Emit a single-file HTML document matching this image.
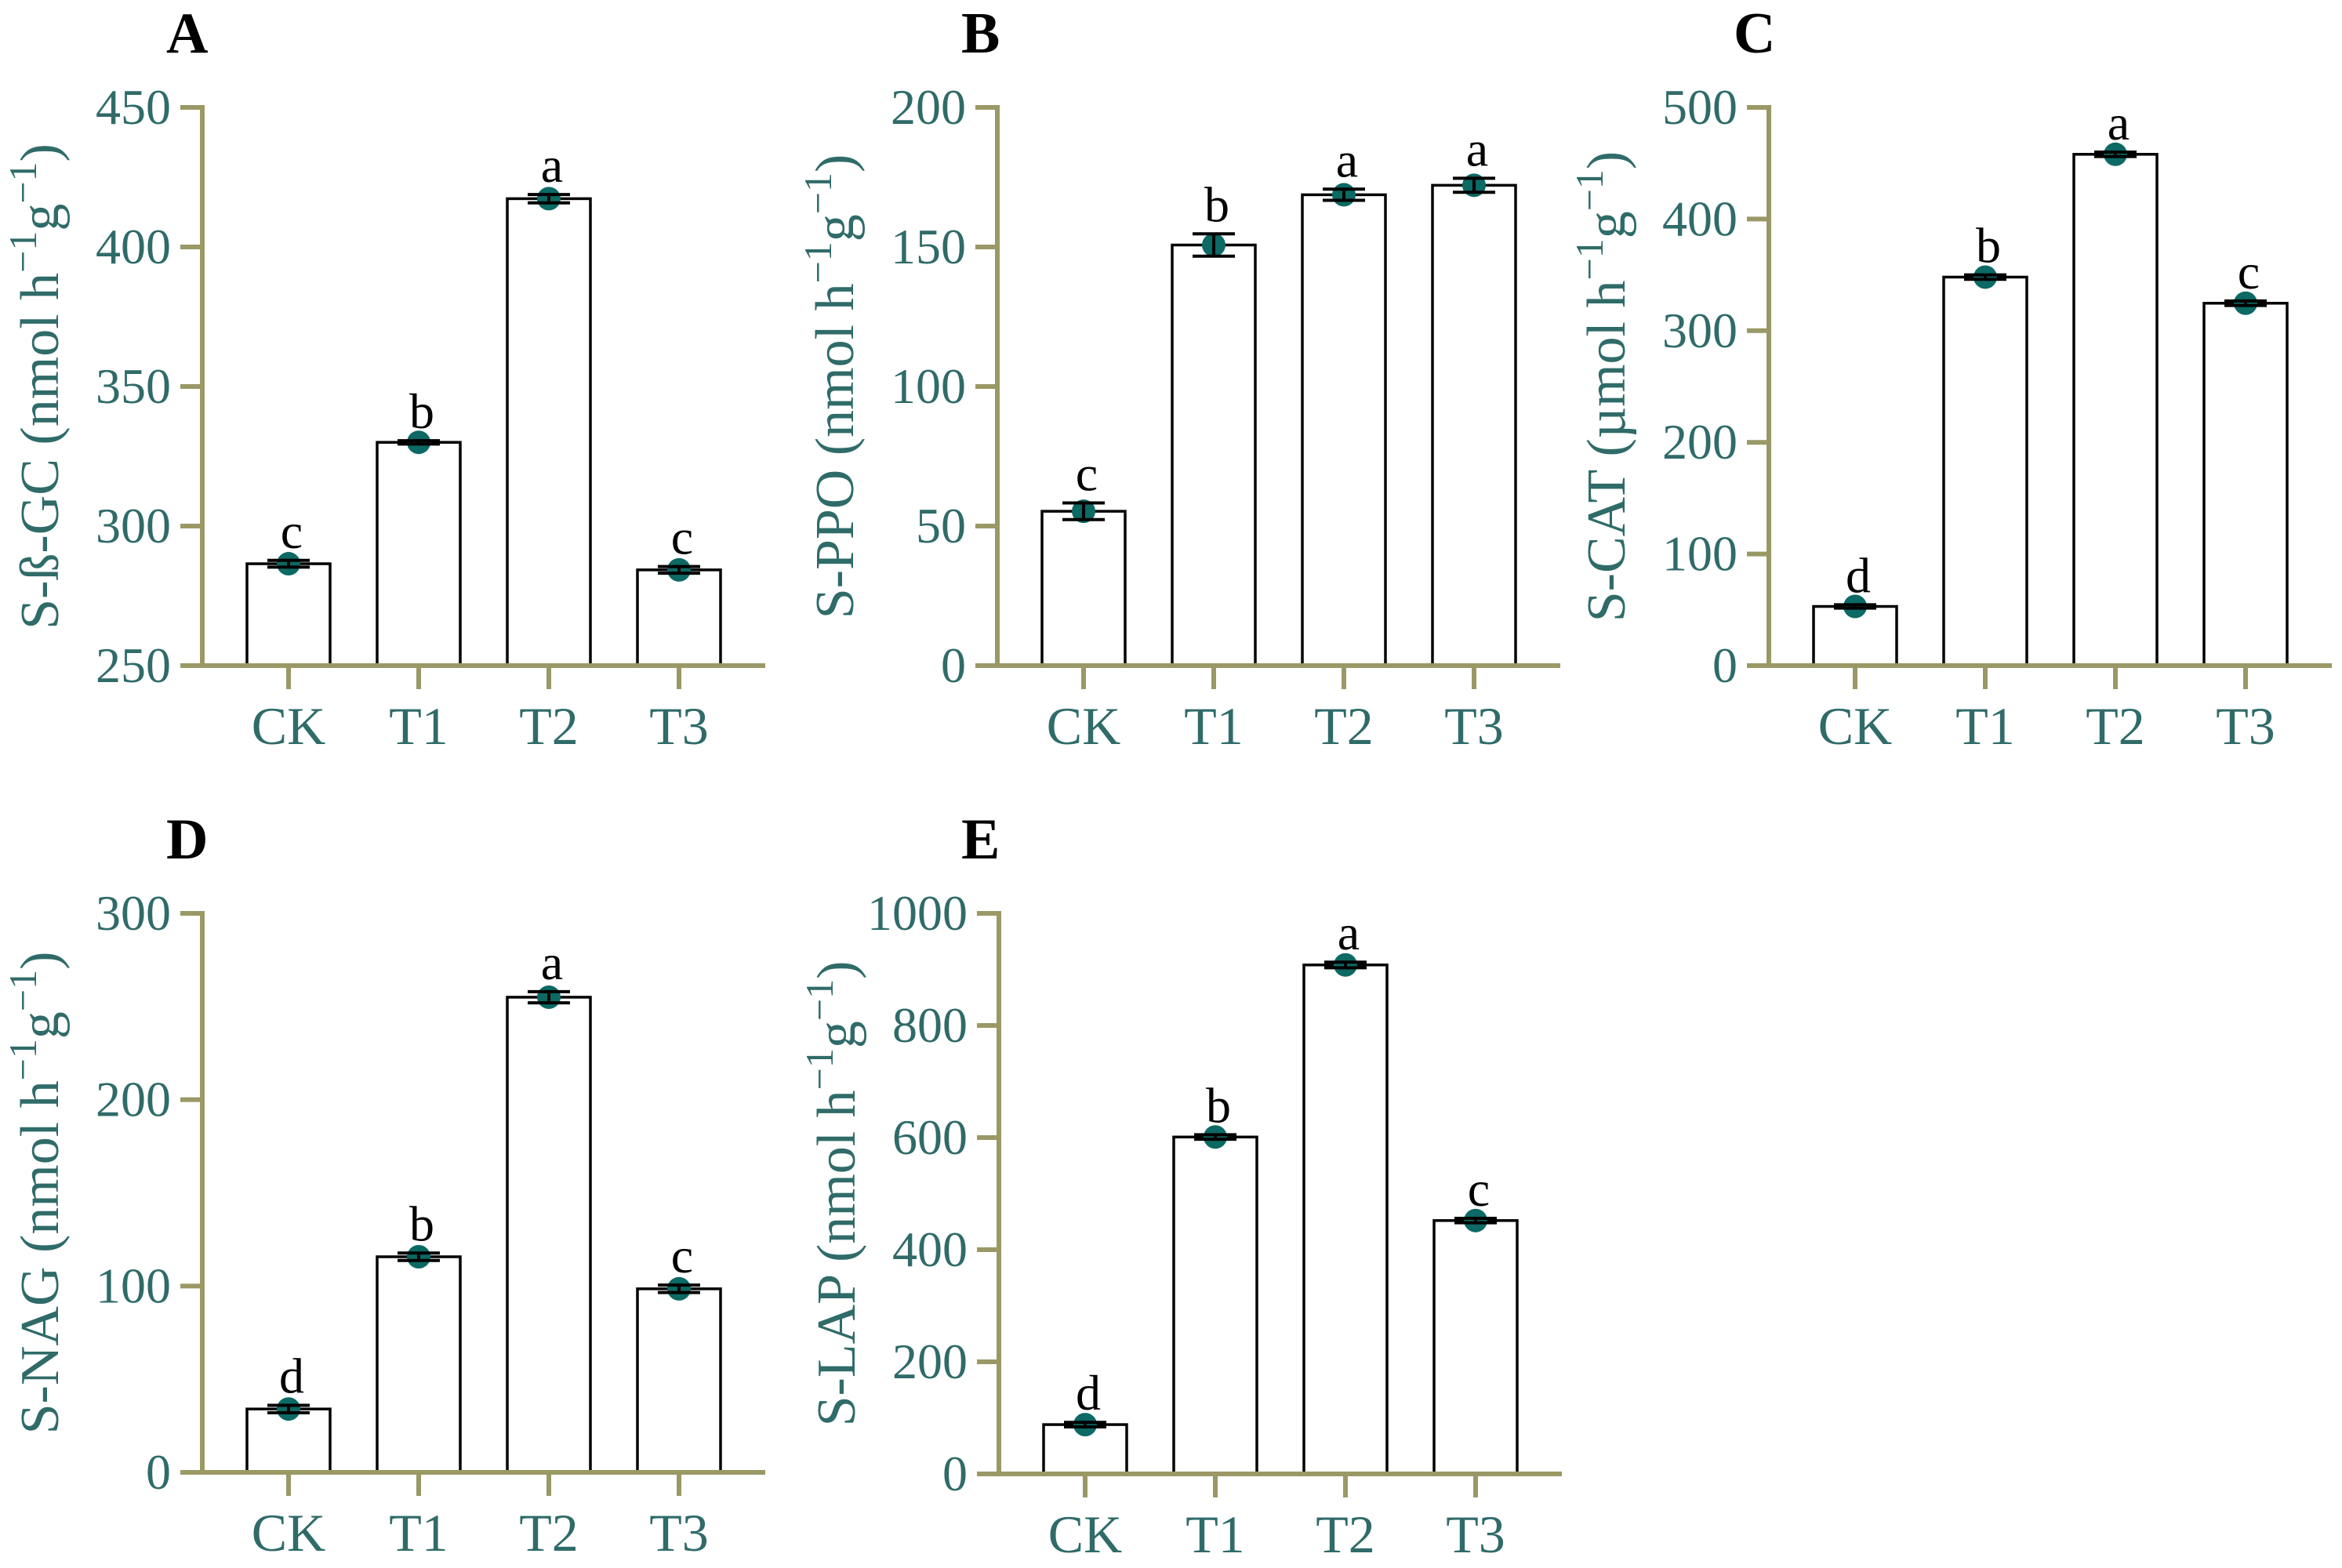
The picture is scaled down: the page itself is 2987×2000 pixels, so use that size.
<!DOCTYPE html>
<html><head><meta charset="utf-8"><style>
html,body{margin:0;padding:0;background:#fff;}
svg{display:block;}
text{font-family:"Liberation Serif",serif;}
</style></head><body>
<svg id="fig" width="2987" height="2000" viewBox="0 0 2987 2000" xmlns="http://www.w3.org/2000/svg"></svg>
<script>
const categories = ["CK","T1","T2","T3"];
const valuesA = [286.5, 330, 417.3, 284.3];
const errorsA = [1.2, 0.6, 1.5, 1.2];
const lettersA = ["c","b","a","c"];
const ticksA = [250,300,350,400,450];
const valuesB = [55.3, 150.7, 168.7, 172.1];
const errorsB = [3, 4, 2, 2.5];
const lettersB = ["c","b","a","a"];
const ticksB = [0,50,100,150,200];
const valuesC = [53, 348, 458, 324.6];
const errorsC = [1.5, 2, 2, 2];
const lettersC = ["d","b","a","c"];
const ticksC = [0,100,200,300,400,500];
const valuesD = [34, 115.7, 255, 98.5];
const errorsD = [2, 2, 3, 2];
const lettersD = ["d","b","a","c"];
const ticksD = [0,100,200,300];
const valuesE = [88, 601, 908, 452];
const errorsE = [4, 4, 5, 4];
const lettersE = ["d","b","a","c"];
const ticksE = [0,200,400,600,800,1000];

const NS="http://www.w3.org/2000/svg";
const svg=document.getElementById('fig');
function mk(tag,attrs,parent){const e=document.createElementNS(NS,tag);for(const k in attrs)e.setAttribute(k,attrs[k]);(parent||svg).appendChild(e);return e;}
const OLIVE="#9a9966", TEAL="#2f6b69", DOT="#0c6964";

function panel(cfg){
  const g=mk('g',{});
  
  
  const ax=cfg.ax, top=cfg.top, bot=cfg.bot;
  const ymin=cfg.ticks[0], ymax=cfg.ticks[cfg.ticks.length-1];
  const y=v=>bot-(v-ymin)/(ymax-ymin)*(bot-top);
  const xc=i=>ax+110+i*166;
  const L=mk('text',{x:cfg.lx,y:top-70,'font-size':74,'font-weight':'bold',fill:'#000'},g);
  L.textContent=cfg.letter;
  
  
  cfg.values.forEach((v,i)=>{
    const r=mk('rect',{x:xc(i)-53,y:y(v),width:106,height:bot-y(v),fill:'#fff',stroke:'#000','stroke-width':3.5},g);
    
    
  });
  const ya=mk('line',{x1:ax,y1:top-3,x2:ax,y2:bot+3,stroke:OLIVE,'stroke-width':6},g);
  
  
  const xa=mk('line',{x1:ax-28,y1:bot,x2:ax+718,y2:bot,stroke:OLIVE,'stroke-width':6},g);
  
  
  cfg.ticks.forEach(t=>{
    mk('line',{x1:ax-28,y1:y(t),x2:ax,y2:y(t),stroke:OLIVE,'stroke-width':6},g);
    const tl=mk('text',{x:ax-40,y:y(t)+21,'font-size':64,fill:TEAL,'text-anchor':'end'},g);
    tl.textContent=t;
    
    
  });
  categories.forEach((c,i)=>{
    mk('line',{x1:xc(i),y1:bot,x2:xc(i),y2:bot+30,stroke:OLIVE,'stroke-width':6},g);
    const cl=mk('text',{x:xc(i),y:bot+100,'font-size':68,fill:TEAL,'text-anchor':'middle'},g);
    cl.textContent=c;
    
    
  });
  cfg.values.forEach((v,i)=>{
    const cy=y(v), e=cfg.errors[i];
    const d=mk('circle',{cx:xc(i),cy:cy,r:15,fill:DOT},g);
    
    
    const eb=mk('path',{d:`M${xc(i)-27},${y(v+e)}H${xc(i)+27}M${xc(i)-27},${y(v-e)}H${xc(i)+27}M${xc(i)},${y(v+e)}V${y(v-e)}`,stroke:'#000','stroke-width':4,fill:'none'},g);
    
    
    const lt=mk('text',{x:xc(i)+4,y:y(v+e)-16,'font-size':64,fill:'#000','text-anchor':'middle'},g);
    lt.textContent=cfg.letters[i];
    
    
  });
  const tx=ax-184, ty=(top+bot)/2;
  const yt=mk('text',{x:tx,y:ty,'font-size':70,fill:TEAL,'text-anchor':'middle',transform:`rotate(-90 ${tx} ${ty})`},g);
  
  
  const p1=mk('tspan',{},yt); p1.textContent=cfg.title+" ("+cfg.unit+" h";
  const s1=mk('tspan',{dy:-28,'font-size':50},yt); s1.textContent="\u22121";
  const p2=mk('tspan',{dy:28},yt); p2.textContent="g";
  const s2=mk('tspan',{dy:-28,'font-size':50},yt); s2.textContent="\u22121";
  const p3=mk('tspan',{dy:28},yt); p3.textContent=")";
}

panel({letter:"A",lx:212,ax:258,top:137,bot:849,ticks:ticksA,values:valuesA,errors:errorsA,letters:lettersA,title:"S-ß-GC",unit:"nmol"});
panel({letter:"B",lx:1226,ax:1272,top:137,bot:849,ticks:ticksB,values:valuesB,errors:errorsB,letters:lettersB,title:"S-PPO",unit:"nmol"});
panel({letter:"C",lx:2211,ax:2256,top:137,bot:849,ticks:ticksC,values:valuesC,errors:errorsC,letters:lettersC,title:"S-CAT",unit:"µmol"});
panel({letter:"D",lx:212,ax:258,top:1165,bot:1878,ticks:ticksD,values:valuesD,errors:errorsD,letters:lettersD,title:"S-NAG",unit:"nmol"});
panel({letter:"E",lx:1226,ax:1274,top:1165,bot:1880,ticks:ticksE,values:valuesE,errors:errorsE,letters:lettersE,title:"S-LAP",unit:"nmol"});
</script>
</body></html>
